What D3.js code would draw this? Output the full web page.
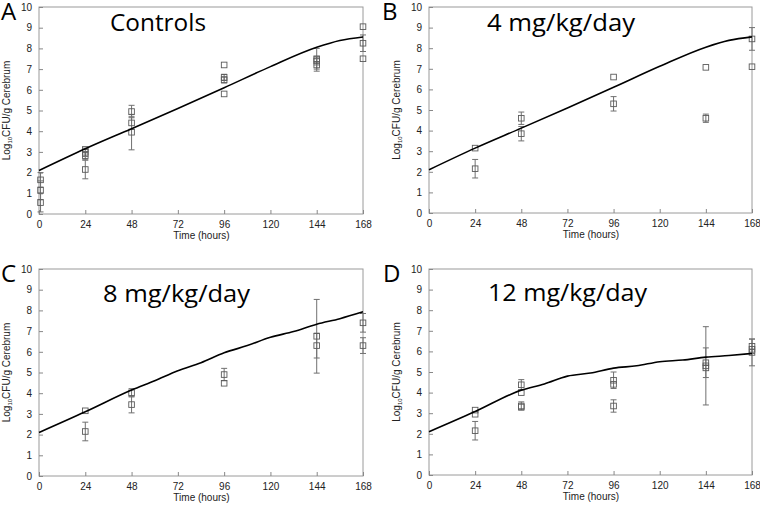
<!DOCTYPE html>
<html>
  <head>
    <meta charset="utf-8">
    <title>CFU panels</title>
    <script src="https://cdn.jsdelivr.net/npm/d3@7"></script>
    <style type="text/css">
      body { margin: 0; background: #fff; }
      .tick text { font-family: "Liberation Sans", Arial, sans-serif; font-size: 10px; fill: #222; }
      .tick line { stroke: #888; }
    </style>
  </head>
  <body>
    <script>
    // Width and height
    var svgWidth = 760;
    var svgHeight = 510;

    // shared ticks
    var timeTicks = [0, 24, 48, 72, 96, 120, 144, 168];
    var logTicks = [0, 1, 2, 3, 4, 5, 6, 7, 8, 9, 10];

    // panel titles and letters
    var panelLetters = ["A", "B", "C", "D"];
    var panelTitles = ["Controls", "4 mg/kg/day", "8 mg/kg/day", "12 mg/kg/day"];

    // model curves: [time, log10 CFU]
    var fitGrowth = [[0, 2.1], [24, 3.15], [48, 4.12], [72, 5.1], [96, 6.1], [120, 7.12], [144, 8.05], [156, 8.38], [168, 8.55]];
    var fit8 = [[0, 2.1], [24, 3.1], [48, 4.15], [60, 4.6], [72, 5.08], [84, 5.47], [96, 5.95], [108, 6.3], [120, 6.7], [132, 6.98], [144, 7.33], [156, 7.6], [168, 7.93]];
    var fit12 = [[0, 2.1], [24, 3.08], [48, 4.12], [60, 4.42], [72, 4.8], [84, 4.95], [96, 5.19], [108, 5.3], [120, 5.5], [132, 5.58], [144, 5.72], [156, 5.8], [168, 5.9]];

    // observations: [time, mean, sd]
    var obsControls = [
      [0.8, 1.65, 0.35], [0.8, 1.15, 0.45], [0.8, 0.55, 0.45],
      [24, 3.12, 0], [24, 2.98, 0.2], [24, 2.82, 0.2], [24, 2.15, 0.45],
      [48, 4.95, 0.3], [48, 4.4, 0.3], [48, 3.95, 0.85],
      [96, 7.2, 0], [96, 6.6, 0.15], [96, 6.48, 0.15], [96, 5.8, 0],
      [144, 7.5, 0.5], [144, 7.4, 0.2], [144, 7.2, 0.3],
      [168, 9.05, 0], [168, 8.25, 0.4], [168, 7.5, 0]
    ];
    var obs4 = [
      [24, 3.15, 0], [24, 2.15, 0.45],
      [48, 4.6, 0.3], [48, 3.85, 0.35],
      [96, 6.6, 0], [96, 5.3, 0.35],
      [144, 7.07, 0], [144, 4.6, 0.2],
      [168, 8.45, 0.55], [168, 7.1, 0]
    ];
    var obs8 = [
      [24, 3.15, 0], [24, 2.15, 0.45],
      [48, 4.02, 0.2], [48, 3.45, 0.4],
      [96, 4.9, 0.3], [96, 4.48, 0],
      [144, 6.75, 1.78], [144, 6.3, 0.6],
      [168, 7.4, 0.45], [168, 6.3, 0.38]
    ];
    var obs12 = [
      [24, 3.15, 0], [24, 2.95, 0], [24, 2.15, 0.45],
      [48, 4.38, 0.25], [48, 4.0, 0], [48, 3.35, 0.2], [48, 3.3, 0],
      [96, 4.6, 0.4], [96, 4.4, 0], [96, 3.35, 0.3],
      [144, 5.45, 0.72], [144, 5.3, 1.9], [144, 5.2, 0],
      [168, 6.25, 0.35], [168, 6.1, 0], [168, 5.95, 0.65]
    ];

    var panelFits = [fitGrowth, fitGrowth, fit8, fit12];
    var panelObs = [obsControls, obs4, obs8, obs12];

    // panel placement (plot area, letter and title spots)
    var panelBox = [
      { left: 39, top: 7, right: 363, bottom: 214, letterX: 1, titleX: 110, titleY: 31, titleW: 96 },
      { left: 429, top: 7, right: 752, bottom: 213, letterX: 382, titleX: 487, titleY: 31, titleW: 148 },
      { left: 39, top: 269, right: 363, bottom: 476, letterX: 1, titleX: 103, titleY: 301.5, titleW: 147 },
      { left: 429, top: 269, right: 752, bottom: 475, letterX: 383, titleX: 488, titleY: 300.5, titleW: 159 }
    ];

    var svg = d3.select("body")
      .append("svg")
        .attr("width", svgWidth)
        .attr("height", svgHeight);

    panelBox.forEach(function(b, i) {
      var xScale = d3.scaleLinear().domain([0, 168]).range([b.left, b.right]);
      var yScale = d3.scaleLinear().domain([0, 10]).range([b.bottom, b.top]);
      var g = svg.append("g");

      // frame
      g.append("rect")
        .attr("x", b.left).attr("y", b.top)
        .attr("width", b.right - b.left).attr("height", b.bottom - b.top)
        .attr("fill", "none").attr("stroke", "#9a9a9a").attr("stroke-width", 1);

      // axes, ticks pointing inward
      var yAxis = g.append("g")
        .attr("transform", "translate(" + b.left + ",0)")
        .call(d3.axisLeft(yScale).tickValues(logTicks).tickSize(-4).tickPadding(7));
      yAxis.select(".domain").remove();

      var xAxis = g.append("g")
        .attr("transform", "translate(0," + b.bottom + ")")
        .call(d3.axisBottom(xScale).tickValues(timeTicks).tickSize(-4).tickPadding(7));
      xAxis.select(".domain").remove();

      // axis titles
      g.append("text")
        .attr("x", (b.left + b.right) / 2 + 0.5)
        .attr("y", b.bottom + 25)
        .attr("text-anchor", "middle")
        .attr("font-family", "Liberation Sans, Arial, sans-serif")
        .attr("font-size", "10px")
        .attr("fill", "#222")
        .text("Time (hours)");

      var yLab = g.append("text")
        .attr("transform", "translate(" + (b.left - 29) + "," + ((b.top + b.bottom) / 2) + ") rotate(-90)")
        .attr("text-anchor", "middle")
        .attr("font-family", "Liberation Sans, Arial, sans-serif")
        .attr("font-size", "10px")
        .attr("fill", "#222");
      yLab.append("tspan").text("Log");
      yLab.append("tspan").attr("font-size", "6px").attr("dy", 2).text("10");
      yLab.append("tspan").attr("dy", -2).text("CFU/g Cerebrum");

      // panel letter and title
      g.append("text")
        .attr("x", b.letterX)
        .attr("y", b.top + 13)
        .attr("font-family", "Open Sans, sans-serif")
        .attr("font-size", "24px")
        .attr("fill", "#000")
        .text(panelLetters[i]);

      g.append("text")
        .attr("x", b.titleX)
        .attr("y", b.titleY)
        .attr("textLength", b.titleW)
        .attr("lengthAdjust", "spacingAndGlyphs")
        .attr("font-family", "Open Sans, sans-serif")
        .attr("font-size", "24px")
        .attr("fill", "#000")
        .text(panelTitles[i]);

      // error bars
      var bars = g.selectAll(".err")
        .data(panelObs[i].filter(function(d) { return d[2] > 0; }))
        .enter()
        .append("g")
        .attr("stroke", "#707070")
        .attr("stroke-width", 1);
      bars.append("line")
        .attr("x1", function(d) { return xScale(d[0]); })
        .attr("x2", function(d) { return xScale(d[0]); })
        .attr("y1", function(d) { return yScale(d[1] - d[2]); })
        .attr("y2", function(d) { return yScale(d[1] + d[2]); });
      bars.append("line")
        .attr("x1", function(d) { return xScale(d[0]) - 3; })
        .attr("x2", function(d) { return xScale(d[0]) + 3; })
        .attr("y1", function(d) { return yScale(d[1] - d[2]); })
        .attr("y2", function(d) { return yScale(d[1] - d[2]); });
      bars.append("line")
        .attr("x1", function(d) { return xScale(d[0]) - 3; })
        .attr("x2", function(d) { return xScale(d[0]) + 3; })
        .attr("y1", function(d) { return yScale(d[1] + d[2]); })
        .attr("y2", function(d) { return yScale(d[1] + d[2]); });

      // observed points
      g.selectAll(".pt")
        .data(panelObs[i])
        .enter()
        .append("rect")
        .attr("x", function(d) { return xScale(d[0]) - 2.8; })
        .attr("y", function(d) { return yScale(d[1]) - 2.8; })
        .attr("width", 5.6)
        .attr("height", 5.6)
        .attr("fill", "none")
        .attr("stroke", "#5a5a5a")
        .attr("stroke-width", 0.9);

      // model line
      var line = d3.line()
        .x(function(d) { return xScale(d[0]); })
        .y(function(d) { return yScale(d[1]); })
        .curve(d3.curveMonotoneX);
      g.append("path")
        .datum(panelFits[i])
        .attr("d", line)
        .attr("fill", "none")
        .attr("stroke", "#000")
        .attr("stroke-width", 1.6);
    });
    </script>
  </body>
</html>
